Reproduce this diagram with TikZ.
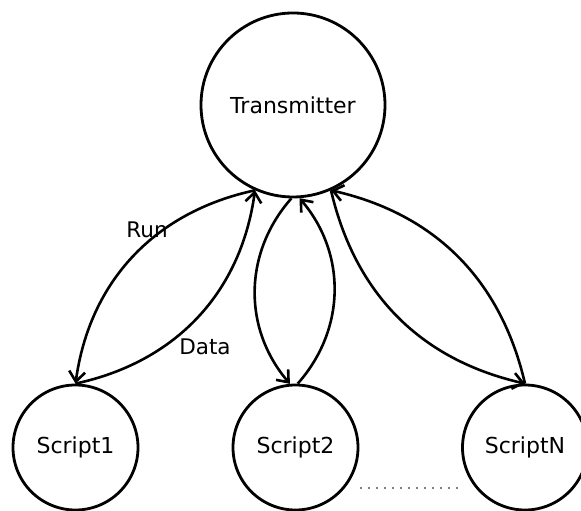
\documentclass[tikz,border=0pt]{standalone}
\usepackage{fontspec}
\setmainfont{DejaVu Sans}
\usetikzlibrary{arrows.meta}
\begin{document}
\begin{tikzpicture}[x=1pt,y=1pt,
  actor/.style={circle,draw,line width=2.8pt,inner sep=0pt,font=\fontsize{22}{26}\selectfont},
  flow/.style={line width=2.6pt,-{Straight Barb[length=10pt,width=16pt,line width=2.6pt]}},
  lbl/.style={font=\fontsize{21.5}{25}\selectfont}]
\useasboundingbox (0,0) rectangle (581,511);
% processes
\node[actor,minimum size=184pt] (T) at (293,406) {Transmitter};
\node[actor,minimum size=125pt] (S1) at (75.5,63.5) {Script1};
\node[actor,minimum size=125pt] (S2) at (295.5,63.5) {Script2};
\node[actor,minimum size=125pt] (SN) at (525,63.5) {ScriptN};
% run / data exchanges
\draw[flow] (T.246) to[bend right=35] (S1.90);
\draw[flow] (S1.90) to[bend right=35] (T.246);
\draw[flow] (T.269) to[bend right=41] (S2.95);
\draw[flow] (S2.88) to[bend right=41] (T.274);
\draw[flow] (T.294) to[bend right=32] (SN.90);
\draw[flow] (SN.90) to[bend right=32] (T.294);
\node[lbl] (run) at (147,281) {Run};
\node[lbl] (data) at (205,164) {Data};
% further scripts
\coordinate (d1) at (360,23);
\coordinate (d2) at (462,23);
\draw[gray,line width=1.5pt,dash pattern=on 1.5pt off 6.5pt] (d1) -- (d2);
\end{tikzpicture}
\end{document}
